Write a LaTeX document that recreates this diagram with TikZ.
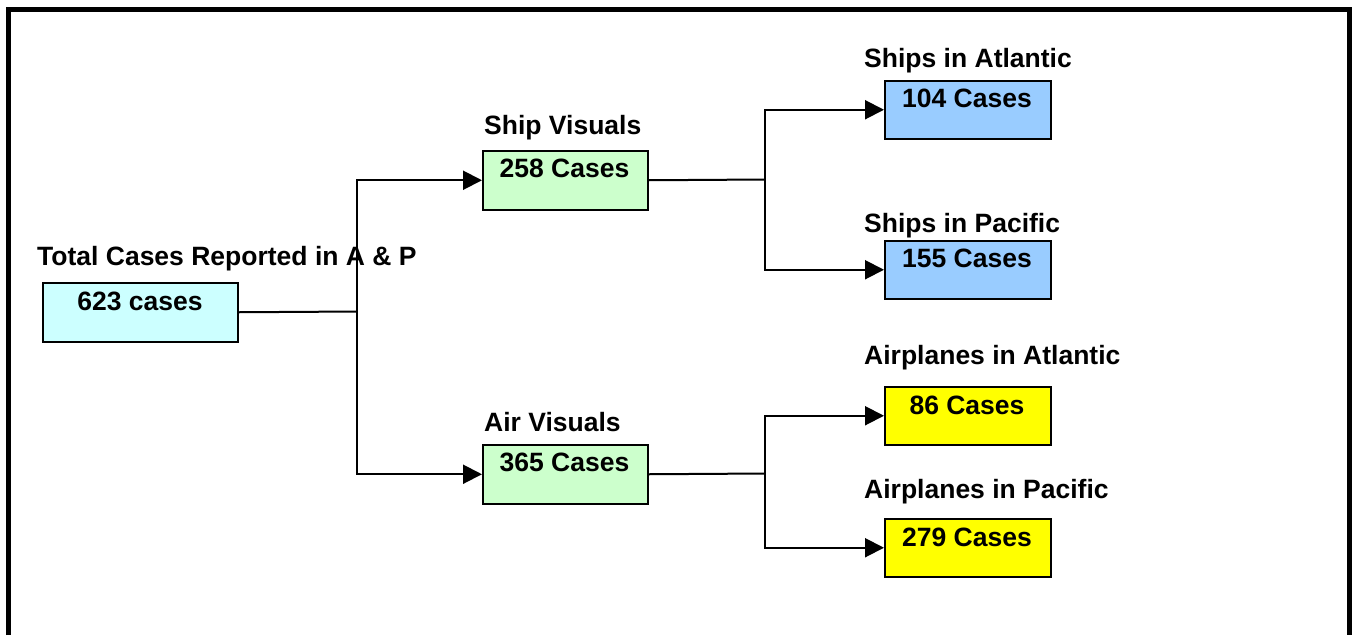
\documentclass[tikz,border=0pt]{standalone}
\usepackage{fontspec}
\setmainfont{Liberation Sans}
\usetikzlibrary{arrows.meta}
\begin{document}
\begin{tikzpicture}[x=1pt,y=-1pt,
  box/.style={draw=black,line width=1.5pt,anchor=north west,minimum width=166pt,minimum height=58pt,inner sep=0pt},
  txt/.style={font=\fontsize{26.5}{30}\selectfont\bfseries,anchor=base,inner sep=0pt},
  lbl/.style={font=\fontsize{26.5}{30}\selectfont\bfseries,anchor=base west,inner sep=0pt},
  conn/.style={line width=2pt},
  arr/.style={line width=2pt,-{Triangle[length=19pt,width=19pt]}},
  frame/.style={line width=5pt}]
\useasboundingbox (0,0) rectangle (1354,635);
% frame
\draw[frame] (8,635) -- (8,9) -- (1349,9) -- (1349,635);
% boxes
\node[box,fill={rgb,255:red,204;green,255;blue,255},minimum width=195pt,minimum height=59pt] (tot) at (42,282) {};
\node[box,fill={rgb,255:red,204;green,255;blue,204},minimum width=165pt,minimum height=59pt] (ship) at (482,150) {};
\node[box,fill={rgb,255:red,204;green,255;blue,204},minimum width=165pt,minimum height=59pt] (air) at (482,444) {};
\node[box,fill={rgb,255:red,153;green,204;blue,255}] (sa) at (884,80) {};
\node[box,fill={rgb,255:red,153;green,204;blue,255}] (sp) at (884,240) {};
\node[box,fill={rgb,255:red,255;green,255;blue,0}] (aa) at (884,386) {};
\node[box,fill={rgb,255:red,255;green,255;blue,0}] (ap) at (884,518) {};
% box texts
\node[txt] (tott) at (140,310) {623 cases};
\node[txt] (shipt) at (564.5,177) {258 Cases};
\node[txt] (airt) at (564.5,471) {365 Cases};
\node[txt] (sat) at (967,107) {104 Cases};
\node[txt] (spt) at (967,267) {155 Cases};
\node[txt] (aat) at (967,414) {86 Cases};
\node[txt] (apt) at (967,546) {279 Cases};
% labels
\node[lbl] (totl) at (37,265) {Total Cases Reported in A \& P};
\node[lbl] (shipl) at (484,134) {Ship Visuals};
\node[lbl] (airl) at (484,431) {Air Visuals};
\node[lbl] (sal) at (864,67) {Ships in Atlantic};
\node[lbl] (spl) at (864,232) {Ships in Pacific};
\node[lbl] (aal) at (864,364) {Airplanes in Atlantic};
\node[lbl] (apl) at (864,498) {Airplanes in Pacific};
% connectors
\coordinate (j0) at (357,311.5);
\coordinate (j1) at (765,179.5);
\coordinate (j2) at (765,473.5);
\draw[conn] (tot.east) -- (j0);
\draw[arr] (j0) |- (ship.west);
\draw[arr] (j0) |- (air.west);
\draw[conn] (ship.east) -- (j1);
\draw[arr] (j1) |- (sa.west);
\draw[arr] (j1) |- (sp.west);
\draw[conn] (air.east) -- (j2);
\draw[arr] (j2) |- (aa.west);
\draw[arr] (j2) |- (ap.west);
\end{tikzpicture}
\end{document}
